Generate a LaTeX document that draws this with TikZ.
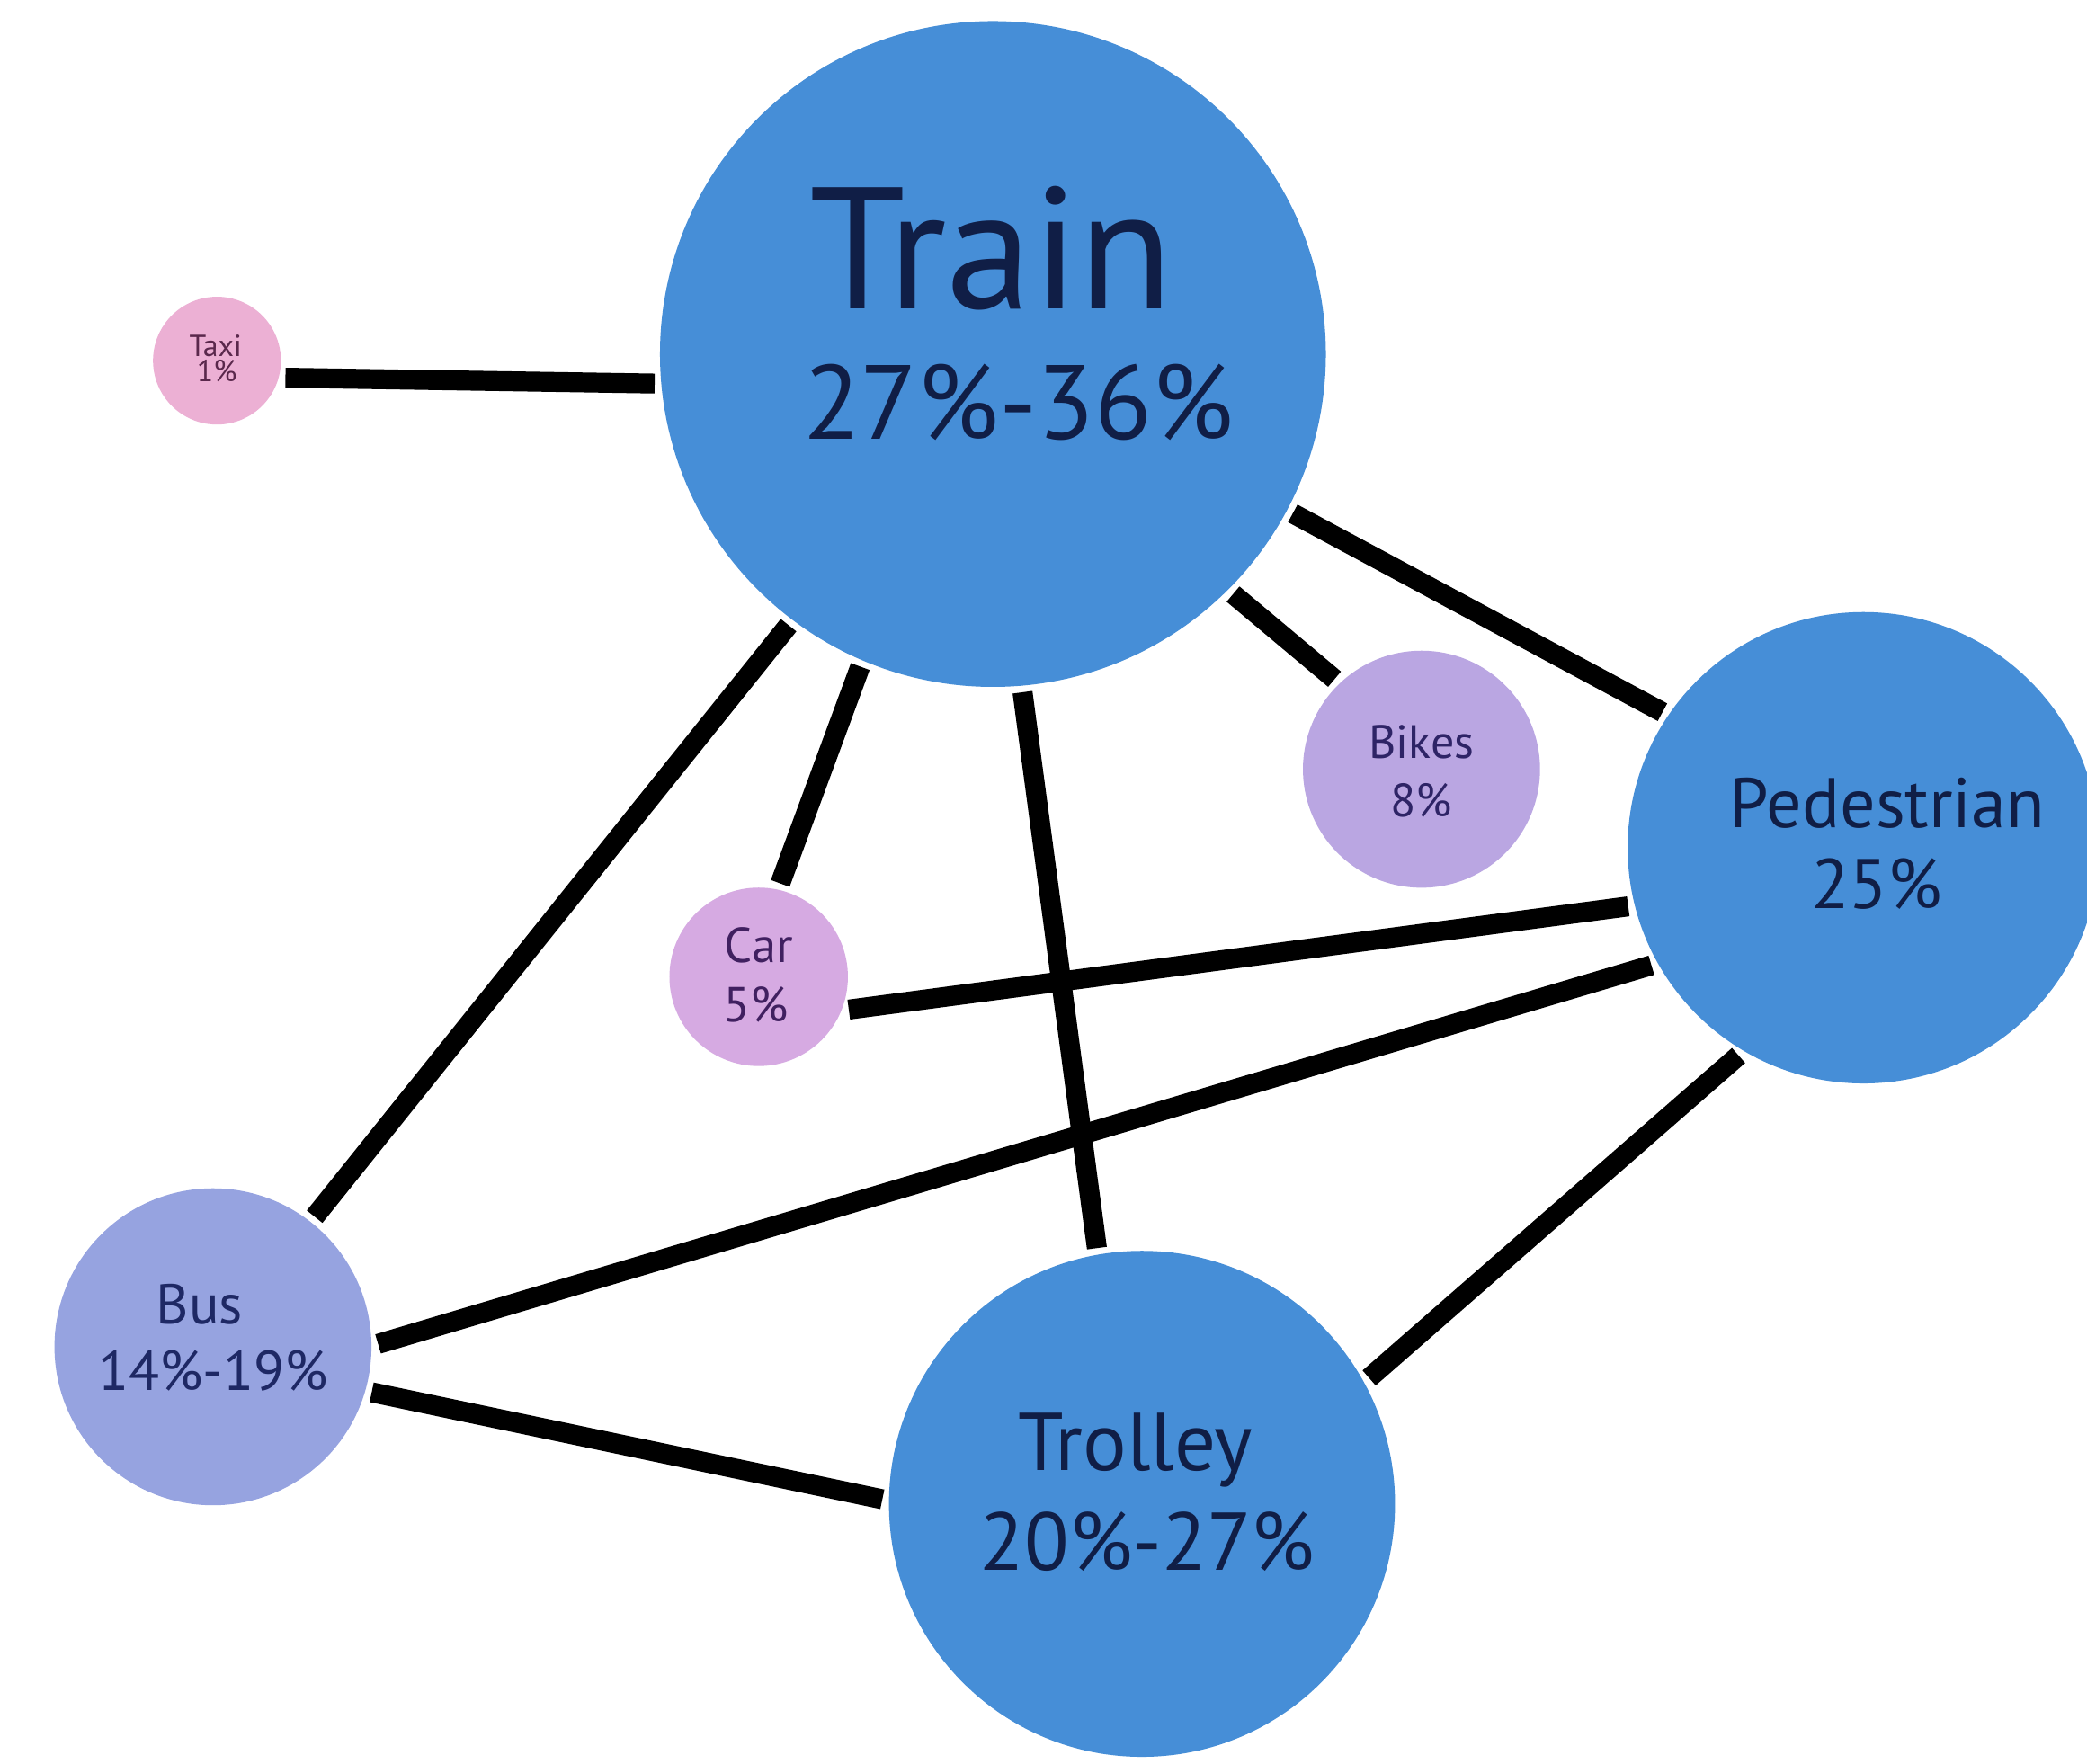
\documentclass[tikz,border=0pt]{standalone}
\usepackage{fontspec}
\setmainfont{PT Sans}
\definecolor{cblue}{RGB}{70,142,215}
\definecolor{cbus}{RGB}{150,163,224}
\definecolor{cbike}{RGB}{186,166,226}
\definecolor{ccar}{RGB}{214,170,226}
\definecolor{ctaxi}{RGB}{236,176,212}
\definecolor{tnavy}{RGB}{16,30,70}
\definecolor{tbus}{RGB}{30,40,100}
\definecolor{tbike}{RGB}{46,36,102}
\definecolor{tcar}{RGB}{64,32,96}
\definecolor{ttaxi}{RGB}{90,40,76}
\newcommand{\fsz}[1]{\fontsize{#1}{#1}\selectfont}
\begin{document}
\begin{tikzpicture}[x=0.01cm,y=-0.01cm,
  hub/.style={circle, inner sep=0pt, outer sep=0.05cm, minimum size=#1},
  link/.style={line width=0.15cm, draw=black},
  lbl/.style={anchor=base, inner sep=0pt, outer sep=0pt}]
\useasboundingbox[fill=white] (0,0) rectangle (1568,1325);

% circles
\node[hub=5.0cm,  fill=cblue] (train) at (746,266) {};
\node[hub=0.96cm, fill=ctaxi] (taxi) at (163,271) {};
\node[hub=1.78cm, fill=cbike] (bikes) at (1068,578) {};
\node[hub=3.54cm, fill=cblue] (ped) at (1400,637) {};
\node[hub=1.34cm, fill=ccar] (car) at (570,734) {};
\node[hub=2.38cm, fill=cbus] (bus) at (160,1012) {};
\node[hub=3.8cm,  fill=cblue] (trolley) at (858,1130) {};

% connectors
\draw[link] (taxi.-14) -- (train.185);
\draw[link] (train.-28) -- (ped.146);
\draw[link] (train.-45) -- (bikes.134);
\draw[link] (train.247) -- (car.77);
\draw[link] (train.233) -- (bus.52);
\draw[link] (train.-85) -- (trolley.100);
\draw[link] (car.-20) -- (ped.194);
\draw[link] (bus.1) -- (ped.209);
\draw[link] (bus.-16) -- (trolley.179);
\draw[link] (trolley.29) -- (ped.239);

% labels
\node[lbl, text=tnavy] (trainA) at (745,232) {\fsz{37pt}Train};
\node[lbl, text=tnavy] (trainB) at (765,330) {\fsz{22.5pt}27\%-36\%};
\node[lbl, text=ttaxi] (taxiA) at (162,268) {\fsz{6.5pt}Taxi};
\node[lbl, text=ttaxi] (taxiB) at (163,287) {\fsz{6.5pt}1\%};
\node[lbl, text=tbike] (bikesA) at (1068,570) {\fsz{10pt}Bikes};
\node[lbl, text=tbike] (bikesB) at (1068,614) {\fsz{10pt}8\%};
\node[lbl, text=tnavy] (pedA) at (1418,622) {\fsz{15pt}Pedestrian};
\node[lbl, text=tnavy] (pedB) at (1410,683) {\fsz{15pt}25\%};
\node[lbl, text=tcar] (carA) at (570,723) {\fsz{10.5pt}Car};
\node[lbl, text=tcar] (carB) at (568,768) {\fsz{10.5pt}5\%};
\node[lbl, text=tbus] (busA) at (150,995) {\fsz{12pt}Bus};
\node[lbl, text=tbus] (busB) at (160,1045) {\fsz{12pt}14\%-19\%};
\node[lbl, text=tnavy] (trolleyA) at (853,1105) {\fsz{17.5pt}Trolley};
\node[lbl, text=tnavy] (trolleyB) at (862,1180) {\fsz{17.5pt}20\%-27\%};
\end{tikzpicture}
\end{document}
